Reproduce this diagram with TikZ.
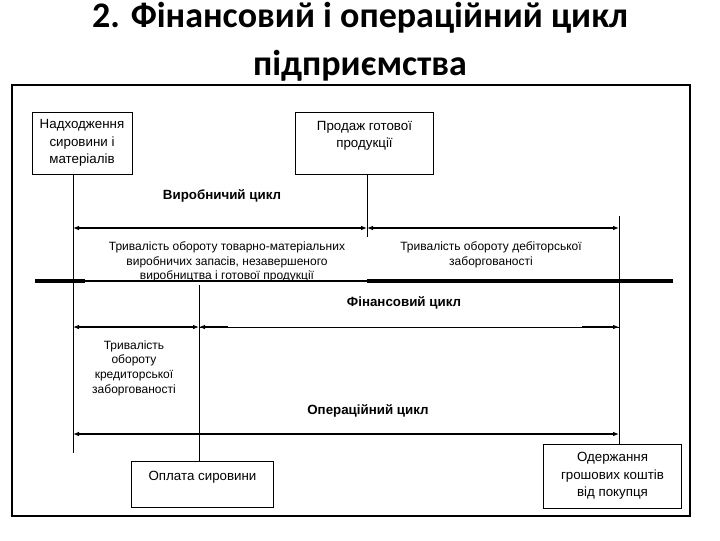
\documentclass[tikz,border=0pt]{standalone}
\usepackage{fontspec}
\setmainfont{Liberation Sans}
\newfontfamily\titlefont{Carlito}
\usetikzlibrary{arrows.meta}

\begin{document}
\begin{tikzpicture}[x=0.75pt,y=-0.75pt,>={Latex[length=4.5pt,width=3.5pt]},
    box/.style={draw,line width=0.6pt,align=center,inner sep=2pt,
      font=\fontsize{10}{13}\selectfont},
    note/.style={align=center,font=\fontsize{9}{11}\selectfont},
    cyc/.style={font=\bfseries\fontsize{10}{12}\selectfont},
    span/.style={line width=1.5pt},
    tick/.style={line width=0.6pt}]
  \useasboundingbox (0,0) rectangle (720,540);

  % Title and frame
  \node[align=center,font=\titlefont\bfseries\fontsize{27}{36}\selectfont] (title) at (360,42)
    {2. Фінансовий і операційний цикл\\підприємства};
  \draw[line width=0.8pt] (12,85) rectangle (690,516);

  % Events
  \node[box,minimum width=75pt,minimum height=46.5pt] (supply) at (82,143)
    {Надходження\\сировини і\\матеріалів};
  \node[box,minimum width=104pt,minimum height=46.5pt] (sale) at (364.5,143)
    {Продаж готової\\продукції\\\mbox{}};
  \node[box,minimum width=107pt,minimum height=34pt] (pay) at (202.5,484.5)
    {Оплата сировини\\\mbox{}};
  \node[box,minimum width=104pt,minimum height=48pt] (cash) at (612.5,476)
    {Одержання\\грошових коштів\\від покупця};

  % Time marks
  \coordinate (t1) at (73,453);
  \coordinate (t2) at (367,237);
  \coordinate (t3) at (619,216);
  \coordinate (t4) at (199,285);
  \draw[tick] (supply.south -| t1) -- (t1);
  \draw[tick] (sale.south -| t2) -- (t2);
  \draw[tick] (t3) -- (cash.north -| t3);
  \draw[tick] (t4) -- (pay.north -| t4);

  % Production cycle
  \node[cyc] (prod) at (222,196) {Виробничий цикл};
  \coordinate (p1) at (t1 |- 0,228);
  \coordinate (p2) at (t2 |- 0,228);
  \coordinate (p3) at (t3 |- 0,228);
  \draw[span,<->] (p1) -- (p2);
  \draw[span,<->] (p2) -- (p3);
  \node[note] (stock) at (227,262)
    {Тривалість обороту товарно-матеріальних\\виробничих запасів, незавершеного\\виробництва і готової продукції};
  \node[note] (debt) at (491,255)
    {Тривалість обороту дебіторської\\заборгованості};

  % Divider
  \coordinate (d1) at (35,281);
  \coordinate (d2) at (85,281);
  \coordinate (d3) at (t2 |- 0,281);
  \coordinate (d4) at (673,281);
  \draw[line width=3pt] (d1) -- (d2);
  \draw[span] (d2) -- (d3);
  \draw[line width=3pt] (d3) -- (d4);

  % Financial cycle
  \node[cyc] (fin) at (404,303) {Фінансовий цикл};
  \coordinate (f1) at (t1 |- 0,327);
  \coordinate (f2) at (t4 |- 0,327);
  \coordinate (f3) at (t3 |- 0,327);
  \coordinate (f2a) at (228,327);
  \coordinate (f3a) at (582,327);
  \draw[span,<->] (f1) -- (f2);
  \draw[tick] (f2) -- (f3);
  \draw[span,<-] (f2) -- (f2a);
  \draw[span,->] (f3a) -- (f3);
  \node[note] (credit) at (134,368)
    {Тривалість\\обороту\\кредиторської\\заборгованості};

  % Operating cycle
  \node[cyc] (oper) at (368,411) {Операційний цикл};
  \coordinate (o1) at (t1 |- 0,434);
  \coordinate (o2) at (t3 |- 0,434);
  \draw[span,<->] (o1) -- (o2);
\end{tikzpicture}
\end{document}
